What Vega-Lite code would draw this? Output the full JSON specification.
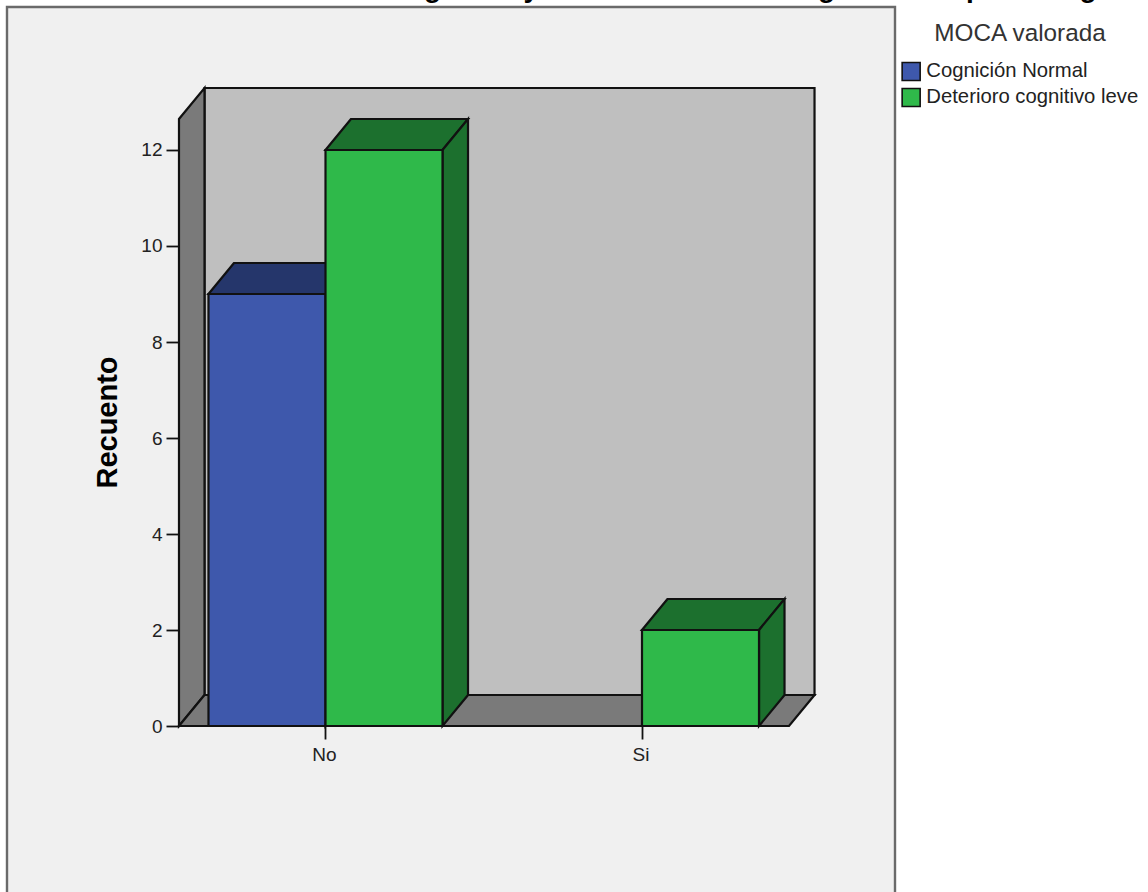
{
  "$schema": "https://vega.github.io/schema/vega-lite/v6.json",
  "autosize": {"type": "none"},
  "padding": {"left": 7, "top": 7, "right": 253, "bottom": 0},
  "width": 888,
  "height": 885,
  "background": "#ffffff",
  "view": {"stroke": null},
  "font": "Liberation Sans",
  "params": [
    {"name": "dx", "value": 0.0806},
    {"name": "dy", "value": 0.646},
    {"name": "ancho", "value": 0.3697},
    {"name": "xIni", "value": -0.4629},
    {"name": "xFin", "value": 1.4645},
    {"name": "techo", "value": 12.646}
  ],
  "datasets": {
    "barras": [
      {"grupo": "No", "moca": "Cognición Normal", "recuento": 9},
      {"grupo": "No", "moca": "Deterioro cognitivo leve", "recuento": 12},
      {"grupo": "Si", "moca": "Deterioro cognitivo leve", "recuento": 2}
    ],
    "marco": [{"titulo": "Deterioro cognitivo y valoración MOCA según el tiempo de la gestión"}]
  },
  "encoding": {
    "x": {
      "field": "xa",
      "type": "quantitative",
      "stack": null,
      "scale": {"domain": [-1.00632, 1.79937], "nice": false, "zero": false},
      "axis": {
        "orient": "bottom",
        "offset": -166,
        "values": [0, 1],
        "labelExpr": "datum.value === 0 ? 'No' : 'Si'",
        "title": null,
        "grid": false,
        "domain": false,
        "tickSize": 13,
        "tickWidth": 1.8,
        "tickColor": "#111111",
        "labelFontSize": 19,
        "labelColor": "#222222",
        "labelPadding": 6,
        "labelOffset": -1.5,
        "labelFont": "Liberation Sans",
        "zindex": 1
      }
    },
    "y": {
      "field": "ya",
      "type": "quantitative",
      "stack": null,
      "scale": {"domain": [-3.458, 14.979], "nice": false, "zero": false},
      "axis": {
        "orient": "left",
        "offset": -172,
        "values": [0, 2, 4, 6, 8, 10, 12],
        "title": "Recuento",
        "titleFontSize": 29,
        "titleFontWeight": "bold",
        "titleColor": "#000000",
        "titleFont": "Liberation Sans",
        "titleX": -57,
        "titleY": 415,
        "grid": false,
        "domain": false,
        "tickSize": 13,
        "tickWidth": 1.8,
        "tickColor": "#111111",
        "labelFontSize": 19,
        "labelColor": "#222222",
        "labelPadding": 4,
        "labelFont": "Liberation Sans",
        "zindex": 1
      }
    }
  },
  "layer": [
    {
      "data": {"name": "marco"},
      "transform": [
        {"calculate": "-1.00632", "as": "xa"},
        {"calculate": "1.79937", "as": "x2a"},
        {"calculate": "-3.8", "as": "ya"},
        {"calculate": "14.979", "as": "y2a"}
      ],
      "mark": {"type": "rect", "fill": "#f0f0f0", "stroke": "#6a6a6a", "strokeWidth": 2.4, "clip": false},
      "encoding": {"x2": {"field": "x2a"}, "y2": {"field": "y2a"}}
    },
    {
      "data": {"name": "marco"},
      "transform": [
        {"calculate": "-0.2101", "as": "xa"},
        {"calculate": "15.187", "as": "ya"}
      ],
      "mark": {"type": "text", "align": "left", "baseline": "alphabetic", "font": "Liberation Sans", "fontSize": 28, "fontWeight": "bold", "color": "#000000", "clip": false},
      "encoding": {"text": {"field": "titulo"}}
    },
    {
      "data": {"name": "marco"},
      "transform": [
        {"calculate": "xIni + dx", "as": "xa"},
        {"calculate": "xFin + dx", "as": "x2a"},
        {"calculate": "dy", "as": "ya"},
        {"calculate": "techo + dy", "as": "y2a"}
      ],
      "mark": {"type": "rect", "fill": "#bfbfbf", "stroke": "#111111", "strokeWidth": 2.2},
      "encoding": {"x2": {"field": "x2a"}, "y2": {"field": "y2a"}}
    },
    {
      "data": {"name": "marco"},
      "transform": [
        {"calculate": "[0, 1]", "as": "d"},
        {"flatten": ["d"]},
        {"calculate": "xIni + datum.d * dx", "as": "xa"},
        {"calculate": "datum.d * dy", "as": "ya"},
        {"calculate": "techo + datum.d * dy", "as": "y2a"}
      ],
      "mark": {"type": "area", "orient": "vertical", "fill": "#7a7a7a", "stroke": "#111111", "strokeWidth": 2.2, "opacity": 1},
      "encoding": {"y2": {"field": "y2a"}}
    },
    {
      "data": {"name": "marco"},
      "transform": [
        {"calculate": "[0, 1]", "as": "d"},
        {"flatten": ["d"]},
        {"calculate": "xIni + datum.d * dx", "as": "xa"},
        {"calculate": "xFin + datum.d * dx", "as": "x2a"},
        {"calculate": "datum.d * dy", "as": "ya"}
      ],
      "mark": {"type": "area", "orient": "horizontal", "fill": "#7a7a7a", "stroke": "#111111", "strokeWidth": 2.2, "opacity": 1},
      "encoding": {"x2": {"field": "x2a"}}
    },
    {
      "data": {"name": "barras"},
      "transform": [
        {"calculate": "(datum.grupo === 'No' ? 0 : 1) + (datum.moca === 'Cognición Normal' ? -ancho : 0)", "as": "x0"},
        {"calculate": "datum.x0 + ancho", "as": "x1"},
        {"calculate": "[0, 1]", "as": "d"},
        {"flatten": ["d"]},
        {"calculate": "datum.x0 + datum.d * dx", "as": "xa"},
        {"calculate": "datum.x1 + datum.d * dx", "as": "x2a"},
        {"calculate": "datum.recuento + datum.d * dy", "as": "ya"},
        {"calculate": "datum.grupo + datum.moca", "as": "barra"},
        {"calculate": "datum.moca === 'Cognición Normal' ? '#25366b' : '#1c702e'", "as": "tono"}
      ],
      "mark": {"type": "area", "orient": "horizontal", "stroke": "#111111", "strokeWidth": 2.2, "opacity": 1},
      "encoding": {
        "x2": {"field": "x2a"},
        "detail": {"field": "barra"},
        "fill": {"field": "tono", "type": "nominal", "scale": null, "legend": null}
      }
    },
    {
      "data": {"name": "barras"},
      "transform": [
        {"calculate": "(datum.grupo === 'No' ? 0 : 1) + (datum.moca === 'Cognición Normal' ? 0 : ancho)", "as": "x1"},
        {"calculate": "[0, 1]", "as": "d"},
        {"flatten": ["d"]},
        {"calculate": "datum.x1 + datum.d * dx", "as": "xa"},
        {"calculate": "datum.recuento + datum.d * dy", "as": "ya"},
        {"calculate": "datum.d * dy", "as": "y2a"},
        {"calculate": "datum.grupo + datum.moca", "as": "barra"},
        {"calculate": "datum.moca === 'Cognición Normal' ? '#25366b' : '#1c702e'", "as": "tono"}
      ],
      "mark": {"type": "area", "orient": "vertical", "stroke": "#111111", "strokeWidth": 2.2, "opacity": 1},
      "encoding": {
        "y2": {"field": "y2a"},
        "detail": {"field": "barra"},
        "fill": {"field": "tono", "type": "nominal", "scale": null, "legend": null}
      }
    },
    {
      "data": {"name": "barras"},
      "transform": [
        {"calculate": "(datum.grupo === 'No' ? 0 : 1) + (datum.moca === 'Cognición Normal' ? -ancho : 0)", "as": "xa"},
        {"calculate": "datum.xa + ancho", "as": "x2a"},
        {"calculate": "0", "as": "ya"},
        {"calculate": "datum.recuento", "as": "y2a"}
      ],
      "mark": {"type": "rect", "stroke": "#111111", "strokeWidth": 2.2},
      "encoding": {
        "x2": {"field": "x2a"},
        "y2": {"field": "y2a"},
        "color": {
          "field": "moca",
          "type": "nominal",
          "scale": {"domain": ["Cognición Normal", "Deterioro cognitivo leve"], "range": ["#3e58ac", "#2fb94a"]},
          "legend": {
            "orient": "none",
            "legendX": 894,
            "legendY": 15,
            "title": "MOCA valorada",
            "titleFontSize": 24.3,
            "titleFontWeight": "normal",
            "titleColor": "#333333",
            "titleFont": "Liberation Sans",
            "titleAnchor": "middle",
            "titlePadding": 15,
            "titleLimit": 300,
            "symbolType": "square",
            "symbolSize": 324,
            "symbolStrokeColor": "#111111",
            "symbolStrokeWidth": 1.6,
            "symbolOpacity": 1,
            "labelFontSize": 20.3,
            "labelColor": "#222222",
            "labelFont": "Liberation Sans",
            "labelLimit": 300,
            "labelOffset": 5,
            "rowPadding": 0
          }
        }
      }
    }
  ]
}
